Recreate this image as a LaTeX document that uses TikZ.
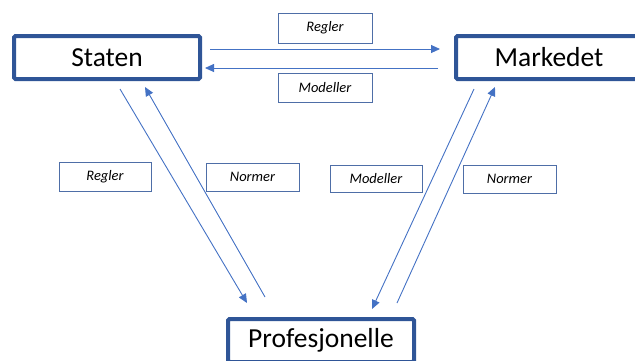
\documentclass[tikz,border=0pt]{standalone}
\usepackage{fontspec}
\setmainfont{Carlito}
\usetikzlibrary{arrows.meta}
\definecolor{boxblue}{HTML}{2F5597}
\definecolor{linblue}{HTML}{4472C4}
\begin{document}
\begin{tikzpicture}[x=1pt,y=-1pt,
 bigbox/.style={draw=boxblue,line width=4pt,rounded corners=1.5pt,minimum width=186pt,minimum height=43pt,inner sep=0pt,font=\fontsize{27.5}{31}\selectfont},
 lbl/.style={draw=boxblue!85,line width=0.8pt,minimum width=92pt,minimum height=29pt,inner sep=0pt,font=\itshape\fontsize{14.5}{17}\selectfont},
 arr/.style={draw=linblue,line width=0.9pt,-{Triangle[length=9pt,width=8pt]}},
 ln/.style={draw=linblue,line width=0.9pt}]
\useasboundingbox (0,0) rectangle (635,360);
\clip (0,0) rectangle (635,360);
\node[bigbox] (staten) at (107,57.5) {Staten};
\node[bigbox] (markedet) at (549,57.5) {Markedet};
\node[bigbox] (prof) at (321,340.5) {Profesjonelle};
\node[lbl,minimum width=94pt,minimum height=30pt] (reglerT) at (325,28) {Regler};
\node[lbl,minimum width=94pt] (modellerT) at (325,87.5) {Modeller};
\node[lbl] (reglerL) at (105,176.5) {Regler};
\node[lbl,minimum width=93pt,minimum height=28pt] (normerL) at (252.5,177) {Normer};
\node[lbl,minimum height=27pt] (modellerR) at (376,178.5) {Modeller};
\node[lbl,minimum width=93pt,minimum height=28pt] (normerR) at (509.5,179) {Normer};
\coordinate (a1s) at (210,49); \coordinate (a1e) at (440,49);
\coordinate (a2s) at (438,68); \coordinate (a2e) at (205,68);
\coordinate (a3s) at (120,89); \coordinate (a3e) at (247,303);
\coordinate (a4s) at (265,297); \coordinate (a4e) at (145,87);
\coordinate (a5s) at (474,89); \coordinate (a5e) at (372,309);
\coordinate (a6s) at (397,303); \coordinate (a6e) at (495,87);
\draw[arr] (a1s) -- (a1e);
\draw[arr] (a2s) -- (a2e);
\draw[arr] (a3s) -- (a3e);
\draw[arr] (a4s) -- (a4e);
\draw[arr] (a5s) -- (a5e);
\draw[arr] (a6s) -- (a6e);
\end{tikzpicture}
\end{document}
